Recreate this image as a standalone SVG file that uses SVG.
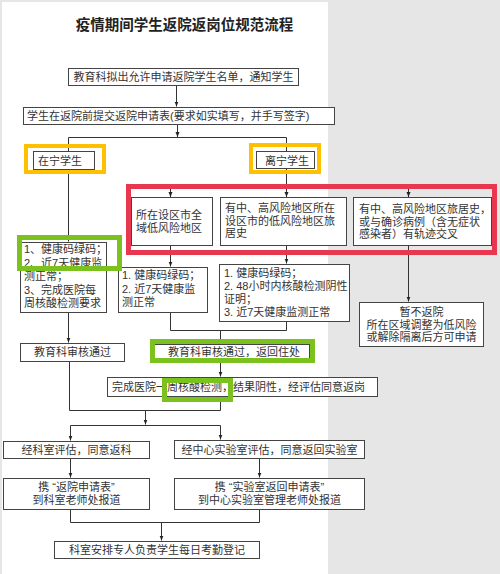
<svg xmlns="http://www.w3.org/2000/svg" width="500" height="574" viewBox="0 0 500 574">
<defs>
<marker id="ah" markerWidth="5" markerHeight="5" refX="5" refY="2" orient="auto" markerUnits="userSpaceOnUse"><path d="M0,0 L5,2 L0,4 z" fill="#222"/></marker>
<style>
.bx{fill:#fff;stroke:#444;stroke-width:1}
.t{font-family:"Liberation Sans","Noto Sans CJK SC",sans-serif;font-size:11px;fill:#333}
.c{text-anchor:middle}
.ln{fill:none;stroke:#333;stroke-width:1}
.ar{fill:none;stroke:#333;stroke-width:1;marker-end:url(#ah)}
.yl{fill:none;stroke:#ffc000;stroke-width:4}
.rd{fill:none;stroke:#e8384f;stroke-width:5}
.gr{fill:none;stroke:#7cc21e;stroke-width:5}
</style>
</defs>
<rect x="0" y="0" width="500" height="574" fill="#e6e6e6"/>
<rect x="2" y="2" width="326" height="572" fill="#fff"/>
<text x="184.5" y="29.5" text-anchor="middle" font-family="Liberation Sans, Noto Sans CJK SC, sans-serif" font-size="14.5" font-weight="bold" fill="#222">疫情期间学生返院返岗位规范流程</text>
<g id="connectors">
<path class="ar" d="M176.5,85.5 V106.5"/>
<path class="ar" d="M177.5,124.5 V137"/>
<path class="ln" d="M68.5,151 V137.5 H286.5 V151"/>
<path class="ar" d="M68.5,169 V241.5"/>
<path class="ln" d="M286.5,168 V187.5 M170.5,187.5 H408.5"/>
<path class="ar" d="M170.5,187.5 V197"/>
<path class="ar" d="M286.5,187.5 V197"/>
<path class="ar" d="M408.5,187.5 V197"/>
<path class="ar" d="M170.5,245 V266.5"/>
<path class="ar" d="M286.5,245 V263.5"/>
<path class="ar" d="M408.5,245 V301.5"/>
<path class="ar" d="M68.5,312 V342.5"/>
<path class="ln" d="M170.5,312 V330.5 H286.5 V321"/>
<path class="ar" d="M220.5,330.5 V343.5"/>
<path class="ar" d="M220.5,360 V376.5"/>
<path class="ln" d="M69.5,361 V410.5 H220.5 V396"/>
<path class="ar" d="M145.5,410.5 V424.5"/>
<path class="ln" d="M70.5,425.5 H220.5"/>
<path class="ar" d="M70.5,425.5 V440.5"/>
<path class="ar" d="M220.5,425.5 V439.5"/>
<path class="ar" d="M70.5,458 V477.5"/>
<path class="ar" d="M259.5,458 V477.5"/>
<path class="ln" d="M70.5,509 V522.5 H259.5 V509"/>
<path class="ar" d="M161.5,522.5 V540.5"/>
</g>
<g id="n1"><rect class="bx" x="68.5" y="68.5" width="230" height="17"/><text class="t c" x="183.5" y="81">教育科拟出允许申请返院学生名单，通知学生</text></g>
<g id="n2"><rect class="bx" x="23.5" y="107.5" width="311" height="17"/><text class="t" x="27" y="120">学生在返院前提交返院申请表(要求如实填写，并手写签字)</text></g>
<g id="n3"><rect class="bx" x="33.5" y="151.5" width="61" height="18"/><text class="t" x="38" y="165">在宁学生</text></g>
<g id="n4"><rect class="bx" x="256.5" y="151.5" width="58" height="17"/><text class="t" x="265" y="164.5">离宁学生</text></g>
<g id="nA"><rect class="bx" x="131.5" y="197.5" width="81" height="48"/><text class="t" x="136" y="219">所在设区市全</text><text class="t" x="136" y="232">域低风险地区</text></g>
<g id="nB"><rect class="bx" x="220.5" y="197.5" width="126" height="48"/><text class="t" x="225" y="212">有中、高风险地区所在</text><text class="t" x="225" y="224.5">设区市的低风险地区旅</text><text class="t" x="225" y="237">居史</text></g>
<g id="nC"><rect class="bx" x="353.5" y="197.5" width="138" height="48"/><text class="t" x="359" y="213">有中、高风险地区旅居史，</text><text class="t" x="359" y="225.5">或与确诊病例（含无症状</text><text class="t" x="359" y="238">感染者）有轨迹交叉</text></g>
<g id="nL"><rect class="bx" x="20.5" y="242.5" width="86" height="70"/><text class="t" x="24" y="253">1、健康码绿码；</text><text class="t" x="24" y="266.5">2、近7天健康监</text><text class="t" x="24" y="280">测正常；</text><text class="t" x="24" y="293.5">3、完成医院每</text><text class="t" x="24" y="307">周核酸检测要求</text></g>
<g id="nA2"><rect class="bx" x="118.5" y="267.5" width="89" height="45"/><text class="t" x="122" y="279">1. 健康码绿码；</text><text class="t" x="122" y="292.5">2. 近7天健康监</text><text class="t" x="122" y="306">测正常</text></g>
<g id="nB2"><rect class="bx" x="219.5" y="264.5" width="130" height="57"/><text class="t" x="224" y="277">1. 健康码绿码；</text><text class="t" x="224" y="290">2. 48小时内核酸检测阴性</text><text class="t" x="224" y="303">证明；</text><text class="t" x="224" y="316">3. 近7天健康监测正常</text></g>
<g id="nC2"><rect class="bx" x="359.5" y="302.5" width="124" height="44"/><text class="t c" x="421.5" y="316">暂不返院</text><text class="t c" x="421.5" y="328.5">所在区域调整为低风险</text><text class="t c" x="421.5" y="341">或解除隔离后方可申请</text></g>
<g id="nL2"><rect class="bx" x="20.5" y="343.5" width="104" height="18"/><text class="t c" x="72.5" y="356">教育科审核通过</text></g>
<g id="nM2"><rect class="bx" x="153.5" y="344.5" width="156" height="16"/><text class="t c" x="234" y="356">教育科审核通过，返回住处</text></g>
<g id="nM3"><rect class="bx" x="107.5" y="377.5" width="270" height="19"/><text class="t" x="112" y="391">完成医院一周核酸检测，结果阴性，经评估同意返岗</text></g>
<g id="nL4"><rect class="bx" x="3.5" y="441.5" width="146" height="17"/><text class="t c" x="76.5" y="454">经科室评估，同意返科</text></g>
<g id="nR4"><rect class="bx" x="174.5" y="440.5" width="190" height="18"/><text class="t c" x="269.5" y="453.5">经中心实验室评估，同意返回实验室</text></g>
<g id="nL5"><rect class="bx" x="3.5" y="478.5" width="146" height="31"/><text class="t c" x="76.5" y="491">携 “返院申请表”</text><text class="t c" x="76.5" y="504">到科室老师处报道</text></g>
<g id="nR5"><rect class="bx" x="174.5" y="478.5" width="190" height="31"/><text class="t c" x="269.5" y="491">携 “实验室返回申请表”</text><text class="t c" x="269.5" y="504">到中心实验室管理老师处报道</text></g>
<g id="nF"><rect class="bx" x="54.5" y="541.5" width="205" height="17"/><text class="t c" x="157" y="554">科室安排专人负责学生每日考勤登记</text></g>
<g id="highlights">
<rect class="yl" x="26" y="146" width="78" height="26"/>
<rect class="yl" x="251" y="145" width="68" height="27"/>
<rect class="rd" x="128.5" y="186.5" width="366" height="66"/>
<rect class="gr" x="19.5" y="237.5" width="100" height="31"/>
<rect class="gr" x="152.5" y="341.5" width="160" height="19"/>
<rect class="gr" x="164.5" y="380.5" width="66" height="19"/>
</g>
</svg>
